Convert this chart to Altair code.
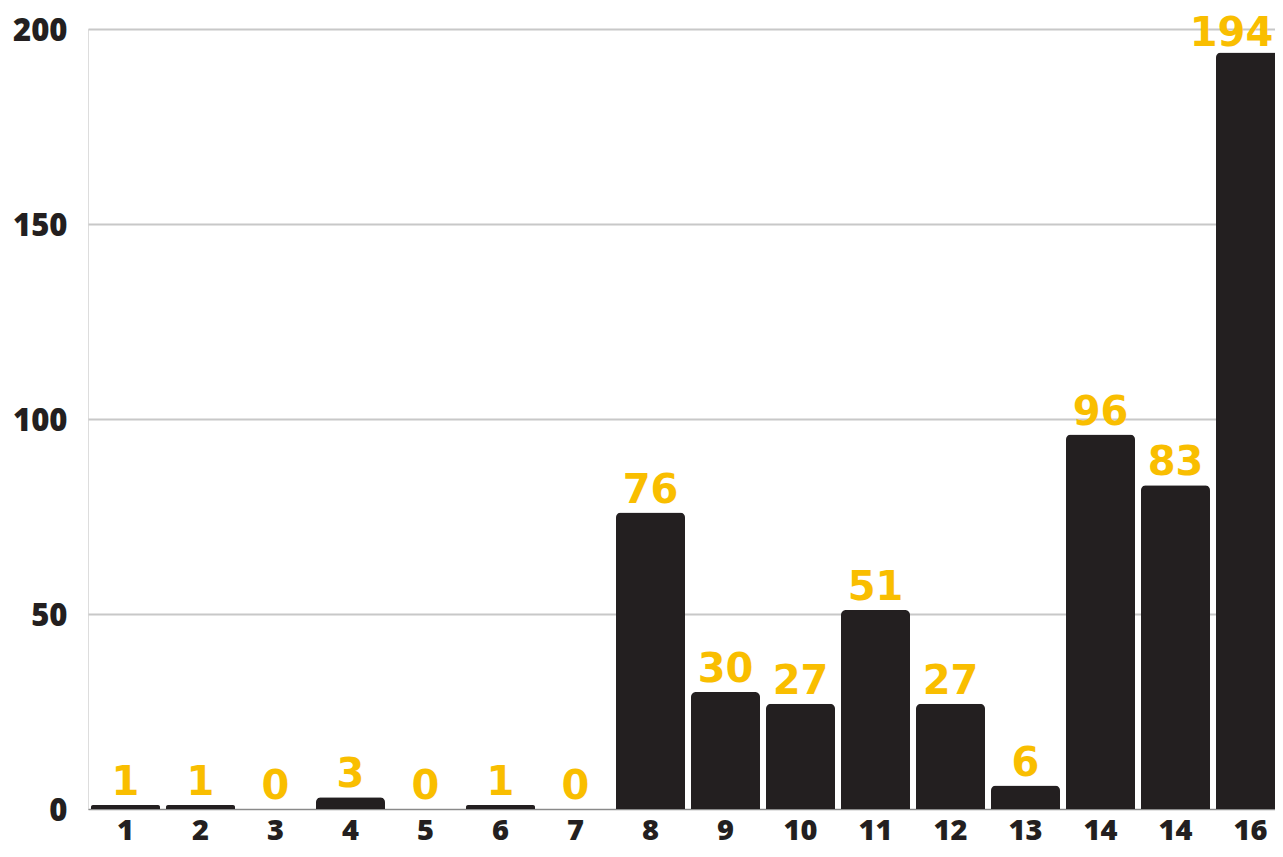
import altair as alt
import pandas as pd

labels = ["1", "2", "3", "4", "5", "6", "7", "8", "9", "10", "11", "12", "13", "14", "14", "16"]
values = [1, 1, 0, 3, 0, 1, 0, 76, 30, 27, 51, 27, 6, 96, 83, 194]

df = pd.DataFrame({"idx": list(range(len(labels))), "label": labels, "value": values})

label_expr = "[" + ",".join("'" + l + "'" for l in labels) + "][datum.value]"

x = alt.X(
    "idx:O",
    scale=alt.Scale(paddingInner=0.08, paddingOuter=0.04),
    axis=alt.Axis(
        title=None, labelExpr=label_expr, labelAngle=0, ticks=False,
        labelFont="Open Sans", labelFontWeight=800, labelFontSize=29,
        labelColor="#231f20", labelPadding=7, domainColor="#8a8a8a", domainWidth=1,
        grid=False,
    ),
)
y = alt.Y(
    "value:Q",
    scale=alt.Scale(domain=[0, 200], nice=False),
    axis=alt.Axis(
        title=None, values=[0, 50, 100, 150, 200], ticks=False, domain=False,
        labelFont="Open Sans", labelFontWeight=800, labelFontSize=31, labelOffset=2,
        labelColor="#231f20", labelPadding=21, gridColor="#c8c8c8", gridWidth=2,
    ),
)

base = alt.Chart(df)

bars = base.mark_bar(color="#231f20", cornerRadiusTopLeft=5, cornerRadiusTopRight=5).encode(x=x, y=y)

text_style = dict(font="DejaVu Sans", fontWeight="bold", fontSize=40, color="#f9be00",
                  baseline="alphabetic", align="center")

texts = base.transform_filter("datum.idx < 15").mark_text(dy=-10, **text_style).encode(x=x, y=y, text="value:Q")
text_last = base.transform_filter("datum.idx == 15").mark_text(dy=-6, dx=-19, **text_style).encode(x=x, y=y, text="value:Q")

chart = (
    alt.layer(bars, texts, text_last)
    .properties(
        width=1200, height=780,
        autosize=alt.AutoSizeParams(type="none"),
        padding={"left": 80, "top": 21, "right": -13, "bottom": 40},
    )
    .configure_view(stroke=None)
    .configure(background="white")
)

chart.save("out.html", embed_options={"renderer": "svg", "actions": False})
